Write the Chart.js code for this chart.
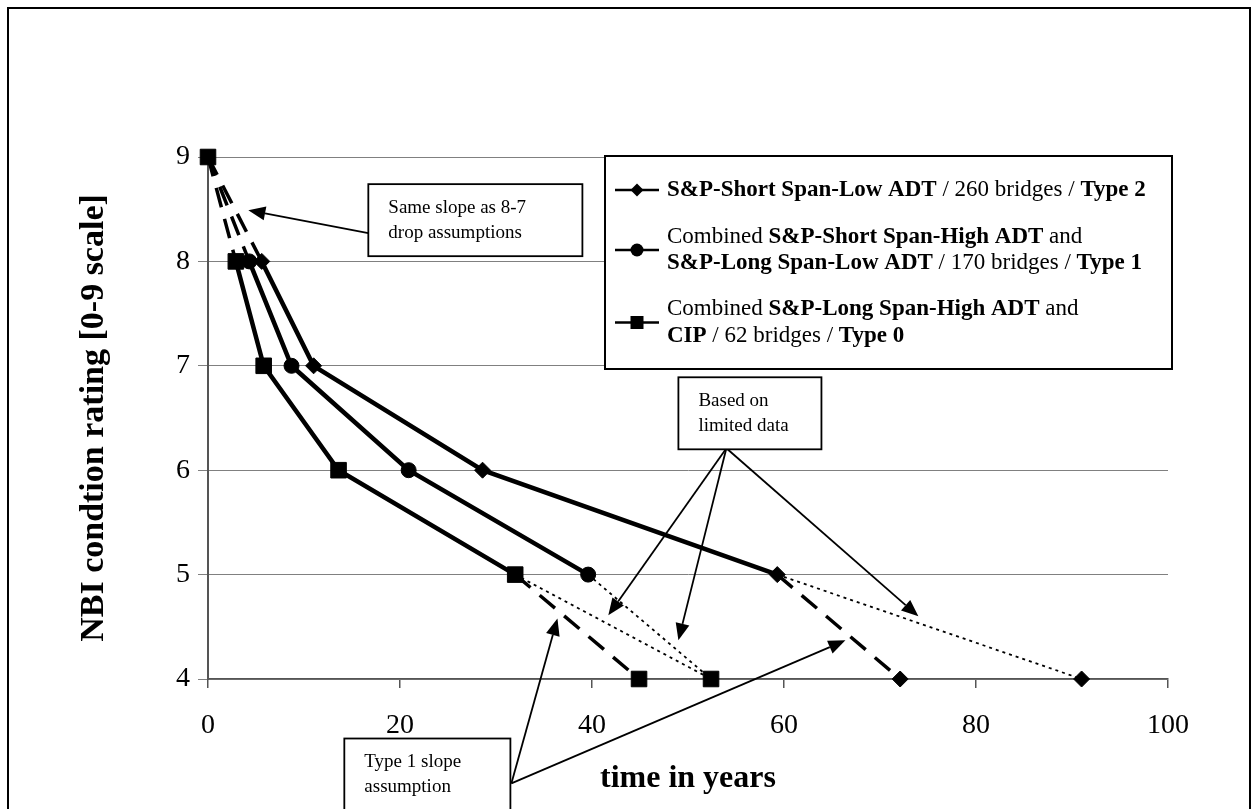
<!DOCTYPE html>
<html><head><meta charset="utf-8">
<script src="https://cdn.jsdelivr.net/npm/chart.js@4.4.1/dist/chart.umd.min.js"></script>
<style>html,body{margin:0;padding:0;background:#fff;overflow:hidden}canvas{display:block}</style>
</head><body>
<canvas id="c" width="1253" height="809"></canvas>
<script>
// ---- data ----
const ratingLevels = [8, 7, 6, 5];          // condition ratings reached on the solid curves
const startRating = 9;
const endRating = 4;
const startYear = 0;
const type2Years = [5.6, 11.0, 28.6, 59.3]; // S&P-Short Span-Low ADT (Type 2)
const type1Years = [4.3, 8.7, 20.9, 39.6];  // Type 1
const type0Years = [2.9, 5.8, 13.6, 32.0];  // Type 0
const type2AssumedEndYear = 72.1;           // rating 4, Type 1 slope assumption
const type2LimitedEndYear = 91.0;           // rating 4, limited data
const type1LimitedEndYear = 52.4;
const type0AssumedEndYear = 44.9;
const type0LimitedEndYear = 52.4;
const xTickValues = [0, 20, 40, 60, 80, 100];
const yTickValues = [4, 5, 6, 7, 8, 9];
const xAxisTitle = 'time in years';
const yAxisTitle = 'NBI condtion rating [0-9 scale]';
const legendEntries = [
  [[['S&P-Short Span-Low ADT', true], [' / 260 bridges / ', false], ['Type 2', true]]],
  [[['Combined ', false], ['S&P-Short Span-High ADT', true], [' and', false]],
   [['S&P-Long Span-Low ADT', true], [' / 170 bridges / ', false], ['Type 1', true]]],
  [[['Combined ', false], ['S&P-Long Span-High ADT', true], [' and', false]],
   [['CIP', true], [' / 62 bridges / ', false], ['Type 0', true]]]
];
const legendMarkers = ['rectRot', 'circle', 'rect'];
const noteSameSlope = ['Same slope as 8-7', 'drop assumptions'];
const noteLimited = ['Based on', 'limited data'];
const noteType1 = ['Type 1 slope', 'assumption'];

// ---- helpers ----
const pts = (xs, ys) => xs.map((x, i) => ({x: x, y: ys[i]}));
const seg = (x1, y1, x2, y2) => [{x: x1, y: y1}, {x: x2, y: y2}];
const FONT = '"Liberation Serif", "Times New Roman", serif';

const solid = {borderColor: '#000', backgroundColor: '#000', borderWidth: 4.5, showLine: true, clip: false,
  pointBorderColor: '#000', pointBackgroundColor: '#000', pointBorderWidth: 1, borderJoinStyle: 'miter'};
const dashed = {borderColor: '#000', backgroundColor: '#000', borderWidth: 3.5, showLine: true, clip: false,
  borderDash: [20, 12], pointBorderColor: '#000', pointBackgroundColor: '#000', pointBorderWidth: 1};
const dotted = {borderColor: '#000', backgroundColor: '#000', borderWidth: 1.8, showLine: true, clip: false,
  borderDash: [3, 4], pointBorderColor: '#000', pointBackgroundColor: '#000', pointBorderWidth: 1};

const datasets = [
  Object.assign({label: 'Type 2', data: pts(type2Years, ratingLevels), pointStyle: 'rectRot', pointRadius: 8}, solid),
  Object.assign({label: 'Type 1', data: pts(type1Years, ratingLevels), pointStyle: 'circle', pointRadius: 7.5}, solid),
  Object.assign({label: 'Type 0', data: pts(type0Years, ratingLevels), pointStyle: 'rect', pointRadius: 11}, solid),
  Object.assign({label: 'start2', data: seg(startYear, startRating, type2Years[0], ratingLevels[0]), pointRadius: 0}, dashed),
  Object.assign({label: 'start1', data: seg(startYear, startRating, type1Years[0], ratingLevels[0]), pointRadius: 0}, dashed),
  Object.assign({label: 'start0', data: seg(startYear, startRating, type0Years[0], ratingLevels[0]), pointStyle: 'rect', pointRadius: [11, 0]}, dashed),
  Object.assign({label: 'assumed2', data: seg(type2Years[3], ratingLevels[3], type2AssumedEndYear, endRating), pointStyle: 'rectRot', pointRadius: [0, 8]}, dashed),
  Object.assign({label: 'assumed0', data: seg(type0Years[3], ratingLevels[3], type0AssumedEndYear, endRating), pointStyle: 'rect', pointRadius: [0, 11]}, dashed),
  Object.assign({label: 'limited2', data: seg(type2Years[3], ratingLevels[3], type2LimitedEndYear, endRating), pointStyle: 'rectRot', pointRadius: [0, 8]}, dotted),
  Object.assign({label: 'limited1', data: seg(type1Years[3], ratingLevels[3], type1LimitedEndYear, endRating), pointRadius: 0}, dotted),
  Object.assign({label: 'limited0', data: seg(type0Years[3], ratingLevels[3], type0LimitedEndYear, endRating), pointStyle: 'rect', pointRadius: [0, 11]}, dotted)
];

// annotation layout (in data units of the chart's scales)
const notes = [
  {lines: noteSameSlope, box: [16.7, 8.74, 39.0, 8.05], from: [16.7, 8.27], to: [[4.2, 8.49]]},
  {lines: noteLimited, box: [49.0, 6.89, 63.9, 6.20], from: [54.0, 6.21], to: [[41.7, 4.61], [49.0, 4.37], [74.0, 4.60]]},
  {lines: noteType1, box: [14.2, 3.43, 31.5, 2.65], from: [31.6, 3.00], to: [[36.4, 4.58], [66.4, 4.37]]}
];

function arrow(ctx, x1, y1, x2, y2) {
  const head = 17, hw = 7;
  const a = Math.atan2(y2 - y1, x2 - x1);
  const bx = x2 - head * Math.cos(a), by = y2 - head * Math.sin(a);
  ctx.beginPath(); ctx.moveTo(x1, y1); ctx.lineTo(bx, by); ctx.stroke();
  ctx.beginPath(); ctx.moveTo(x2, y2);
  ctx.lineTo(bx + hw * Math.sin(a), by - hw * Math.cos(a));
  ctx.lineTo(bx - hw * Math.sin(a), by + hw * Math.cos(a));
  ctx.closePath(); ctx.fill();
}

function drawMarker(ctx, style, x, y) {
  ctx.beginPath();
  if (style === 'rectRot') { const r = 6.5; ctx.moveTo(x, y - r); ctx.lineTo(x + r, y); ctx.lineTo(x, y + r); ctx.lineTo(x - r, y); ctx.closePath(); }
  else if (style === 'circle') { ctx.arc(x, y, 6.5, 0, Math.PI * 2); }
  else { ctx.rect(x - 6.5, y - 6.5, 13, 13); }
  ctx.fill();
}

const overlay = {
  id: 'overlay',
  afterDatasetsDraw(chart) {
    const ctx = chart.ctx, xs = chart.scales.x, ys = chart.scales.y, ca = chart.chartArea;
    ctx.save();
    // annotation boxes and arrows
    ctx.strokeStyle = '#000'; ctx.fillStyle = '#000'; ctx.lineWidth = 1.8;
    notes.forEach(n => {
      const fx = xs.getPixelForValue(n.from[0]), fy = ys.getPixelForValue(n.from[1]);
      n.to.forEach(t => arrow(ctx, fx, fy, xs.getPixelForValue(t[0]), ys.getPixelForValue(t[1])));
    });
    notes.forEach(n => {
      const l = xs.getPixelForValue(n.box[0]), t = ys.getPixelForValue(n.box[1]);
      const r = xs.getPixelForValue(n.box[2]), b = ys.getPixelForValue(n.box[3]);
      ctx.fillStyle = '#fff'; ctx.fillRect(l, t, r - l, b - t);
      ctx.lineWidth = 1.8; ctx.strokeStyle = '#000'; ctx.strokeRect(l, t, r - l, b - t);
      ctx.fillStyle = '#000'; ctx.font = '19px ' + FONT; ctx.textBaseline = 'middle'; ctx.textAlign = 'left';
      n.lines.forEach((s, i) => ctx.fillText(s, l + 20, t + 24 + i * 25));
    });
    // legend
    const lx = ca.left + 397, ly = ca.top - 1, lw = 567, lh = 213;
    ctx.fillStyle = '#fff'; ctx.fillRect(lx, ly, lw, lh);
    ctx.lineWidth = 2; ctx.strokeStyle = '#000'; ctx.strokeRect(lx, ly, lw, lh);
    const rowY = [[34], [81, 107], [153, 180]];
    legendEntries.forEach((entry, ei) => {
      const ys0 = rowY[ei];
      const my = ly + (ys0[0] + ys0[ys0.length - 1]) / 2;
      ctx.strokeStyle = '#000'; ctx.lineWidth = 2.5;
      ctx.beginPath(); ctx.moveTo(lx + 10, my); ctx.lineTo(lx + 54, my); ctx.stroke();
      ctx.fillStyle = '#000';
      drawMarker(ctx, legendMarkers[ei], lx + 32, my);
      entry.forEach((line, li) => {
        let x = lx + 62;
        const y = ly + ys0[li];
        ctx.textBaseline = 'middle'; ctx.textAlign = 'left';
        line.forEach(run => {
          ctx.font = (run[1] ? 'bold ' : '') + '23px ' + FONT;
          ctx.fillText(run[0], x, y);
          x += ctx.measureText(run[0]).width;
        });
      });
    });
    ctx.restore();
  },
  afterDraw(chart) {
    const ctx = chart.ctx;
    ctx.save();
    ctx.strokeStyle = '#000'; ctx.lineWidth = 2;
    ctx.strokeRect(8, 8, 1242, 830);
    ctx.restore();
  }
};

new Chart(document.getElementById('c'), {
  type: 'scatter',
  data: {datasets: datasets},
  options: {
    responsive: false, animation: false, devicePixelRatio: 1, events: [],
    layout: {padding: {left: 0, top: 157, right: 85, bottom: 0}},
    plugins: {legend: {display: false}, tooltip: {enabled: false}},
    scales: {
      x: {
        type: 'linear', min: 0, max: 100,
        afterBuildTicks: s => { s.ticks = xTickValues.map(v => ({value: v})); },
        afterFit: s => { s.height = 130; },
        ticks: {color: '#000', padding: 21, font: {family: FONT, size: 28}},
        grid: {drawOnChartArea: false, drawTicks: true, tickLength: 9, tickColor: '#555', lineWidth: 1.5},
        border: {display: true, color: '#555', width: 1.5},
        title: {display: true, text: xAxisTitle, color: '#000', font: {family: FONT, size: 32, weight: 'bold'}, padding: {top: 0, bottom: 11}}
      },
      y: {
        type: 'linear', min: 4, max: 9,
        afterBuildTicks: s => { s.ticks = yTickValues.map(v => ({value: v})); },
        afterFit: s => { s.width = 208; },
        ticks: {color: '#000', padding: 8, font: {family: FONT, size: 28}},
        grid: {drawOnChartArea: true, drawTicks: true, tickLength: 10, color: '#808080', tickColor: '#808080', lineWidth: 1},
        border: {display: true, color: '#555', width: 2},
        title: {display: true, text: yAxisTitle, color: '#000', font: {family: FONT, size: 34, weight: 'bold'}, padding: {top: 74, bottom: 0}}
      }
    }
  },
  plugins: [overlay]
});
</script>
</body></html>
